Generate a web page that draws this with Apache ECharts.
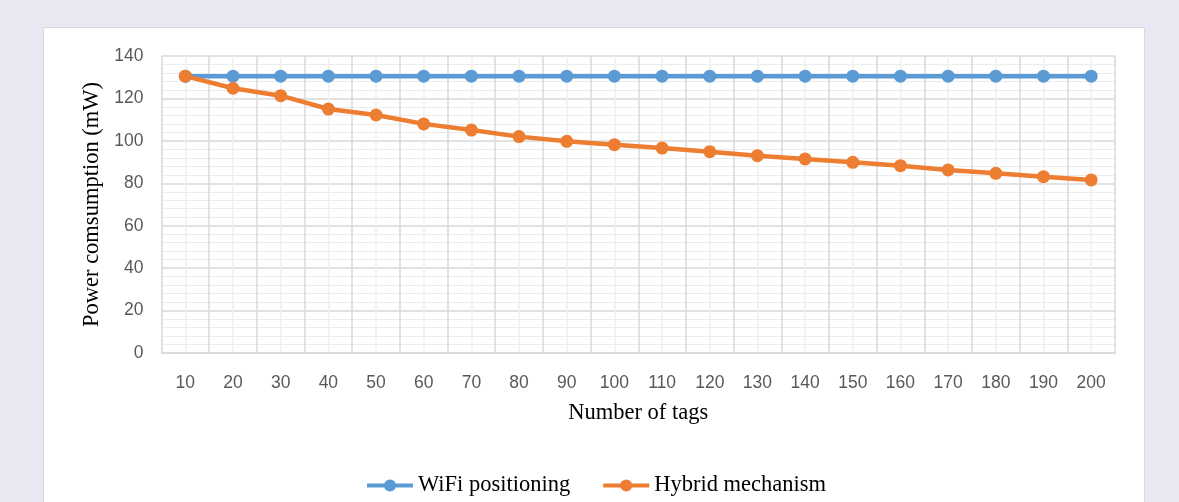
<!DOCTYPE html>
<html>
<head>
<meta charset="utf-8">
<script src="https://cdn.jsdelivr.net/npm/echarts@6/dist/echarts.min.js"></script>
<style>
html,body{margin:0;padding:0;width:1179px;height:502px;background:#e8e8f2;overflow:hidden;}
#panel{position:absolute;left:43px;top:27px;width:1102px;height:490px;background:#fff;border:1px solid #d9d9d9;box-sizing:border-box;}
#chart{position:absolute;left:0;top:0;width:1179px;height:502px;}
</style>
</head>
<body>
<div id="panel"></div>
<div id="chart"></div>
<script>
const categories = ['10','20','30','40','50','60','70','80','90','100','110','120','130','140','150','160','170','180','190','200'];
const wifiValues = [130.5,130.5,130.5,130.5,130.5,130.5,130.5,130.5,130.5,130.5,130.5,130.5,130.5,130.5,130.5,130.5,130.5,130.5,130.5,130.5];
const hybridValues = [130.5,124.8,121.3,115.0,112.2,108.0,105.1,102.0,99.8,98.2,96.6,94.9,93.0,91.5,89.9,88.3,86.3,84.7,83.1,81.6];
const yTicks = {min:0, max:140, interval:20};
const seriesNames = ['WiFi positioning','Hybrid mechanism'];

const chart = echarts.init(document.getElementById('chart'), null, {renderer:'canvas'});
const grid = {left:161.5, right:64, top:56, bottom:149};
chart.setOption({
  backgroundColor:'transparent',
  animation:false,
  grid: grid,
  legend:{
    data: seriesNames,
    bottom: 0,
    left: 360,
    itemWidth: 46,
    itemHeight: 15,
    itemGap: 31,
    lineStyle:{width:4},
    textStyle:{fontFamily:'Liberation Serif', fontSize:22.5, color:'#000'}
  },
  xAxis:[{
    type:'category',
    data: categories,
    boundaryGap:true,
    name:'Number of tags',
    nameLocation:'middle',
    nameGap:49,
    nameTextStyle:{fontFamily:'Liberation Serif', fontSize:22.5, color:'#000'},
    axisLine:{show:true, lineStyle:{color:'#d9d9d9', width:1.5}},
    axisTick:{show:false},
    axisLabel:{margin:21, fontFamily:'Liberation Sans', fontSize:17.5, color:'#595959'},
    splitLine:{show:true, lineStyle:{color:'#d9d9d9', width:1.5}}
  },{
    type:'value',
    min:5, max:205, interval:10,
    position:'bottom',
    axisLine:{show:false}, axisTick:{show:false}, axisLabel:{show:false},
    splitLine:{show:false},
    minorTick:{show:false, splitNumber:2},
    minorSplitLine:{show:true, lineStyle:{color:'#f0f0f0', width:1.5}}
  }],
  yAxis:{
    type:'value',
    min:yTicks.min, max:yTicks.max, interval:yTicks.interval,
    name:'Power comsumption (mW)',
    nameLocation:'middle',
    nameGap:56,
    nameTextStyle:{fontFamily:'Liberation Serif', fontSize:22.5, color:'#000'},
    axisLine:{show:false},
    axisTick:{show:false},
    axisLabel:{margin:18, fontFamily:'Liberation Sans', fontSize:17.5, color:'#595959'},
    splitLine:{show:true, lineStyle:{color:'#d9d9d9', width:1.5}},
    minorTick:{show:false, splitNumber:5},
    minorSplitLine:{show:true, lineStyle:{color:'#ececec', width:1}}
  },
  series:[{
    name: seriesNames[0],
    type:'line',
    xAxisIndex:0,
    data: wifiValues,
    symbol:'circle', symbolSize:13,
    lineStyle:{color:'#5b9bd5', width:4.5},
    itemStyle:{color:'#5b9bd5'}
  },{
    name: seriesNames[1],
    type:'line',
    xAxisIndex:0,
    data: hybridValues,
    symbol:'circle', symbolSize:13,
    lineStyle:{color:'#ed7d31', width:4.5},
    itemStyle:{color:'#ed7d31'}
  }]
});
</script>
</body>
</html>
